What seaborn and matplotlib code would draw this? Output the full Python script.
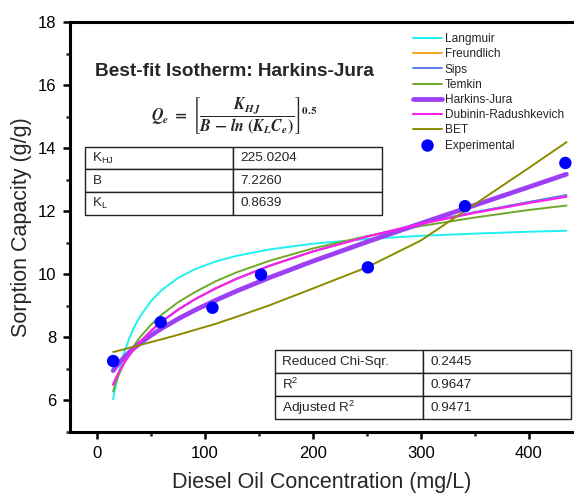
import matplotlib
matplotlib.use('Agg')
import matplotlib.pyplot as plt
import seaborn as sns
import pandas as pd
from matplotlib.ticker import MultipleLocator

# ---------------- data ----------------
conc_grid = [15, 17, 20, 25, 30, 35, 40, 50, 60, 75, 90, 110, 130, 160, 200, 250, 300, 350, 400, 435]

langmuir = [6.04, 6.41, 6.87, 7.50, 7.98, 8.36, 8.67, 9.15, 9.50, 9.88, 10.15, 10.41,
            10.59, 10.79, 10.97, 11.12, 11.22, 11.29, 11.35, 11.38]
freundlich = [6.505, 6.664, 6.877, 7.179, 7.436, 7.661, 7.861, 8.207, 8.500, 8.875, 9.193, 9.555,
              9.868, 10.272, 10.724, 11.195, 11.61, 11.97, 12.29, 12.51]
sips = [6.505, 6.664, 6.877, 7.179, 7.436, 7.661, 7.861, 8.207, 8.500, 8.875, 9.193, 9.555,
        9.868, 10.272, 10.724, 11.195, 11.61, 11.97, 12.29, 12.51]
temkin = [6.29, 6.51, 6.79, 7.18, 7.50, 7.77, 8.01, 8.40, 8.72, 9.11, 9.42, 9.78,
          10.07, 10.43, 10.82, 11.21, 11.53, 11.80, 12.04, 12.18]
harkins_jura = [6.946, 7.041, 7.170, 7.361, 7.528, 7.678, 7.816, 8.064, 8.285, 8.583, 8.851, 9.177,
                9.478, 9.897, 10.416, 11.026, 11.613, 12.190, 12.766, 13.172]
dubinin = [6.505, 6.664, 6.877, 7.179, 7.436, 7.661, 7.861, 8.207, 8.500, 8.875, 9.193, 9.555,
           9.868, 10.272, 10.724, 11.195, 11.597, 11.947, 12.259, 12.459]
bet = [7.54, 7.55, 7.58, 7.62, 7.67, 7.71, 7.76, 7.85, 7.94, 8.08, 8.23, 8.43,
       8.66, 9.02, 9.55, 10.22, 11.07, 12.22, 13.37, 14.19]

exp_conc = [15, 59, 107, 152, 251, 341, 434]
exp_q = [7.25, 8.48, 8.94, 9.99, 10.22, 12.16, 13.53]

model_names = ['Langmuir', 'Freundlich', 'Sips', 'Temkin', 'Harkins-Jura',
               'Dubinin-Radushkevich', 'BET']
model_values = [langmuir, freundlich, sips, temkin, harkins_jura, dubinin, bet]

params_names = ['K$_{\\mathregular{HJ}}$', 'B', 'K$_{\\mathregular{L}}$']
params_values = ['225.0204', '7.2260', '0.8639']
stats_names = ['Reduced Chi-Sqr.', 'R$^2$', 'Adjusted R$^2$']
stats_values = ['0.2445', '0.9647', '0.9471']

title_text = 'Best-fit Isotherm: Harkins-Jura'
xlabel_text = 'Diesel Oil Concentration (mg/L)'
ylabel_text = 'Sorption Capacity (g/g)'

# ---------------- style ----------------
colors = {'Langmuir': '#1ff0f0', 'Freundlich': '#f5a623', 'Sips': '#5b7bf0',
          'Temkin': '#6fa82a', 'Harkins-Jura': '#9d3ff5',
          'Dubinin-Radushkevich': '#ff1ef0', 'BET': '#8c8a00'}
widths = {'Langmuir': 1.4, 'Freundlich': 1.4, 'Sips': 1.4, 'Temkin': 1.4,
          'Harkins-Jura': 3.4, 'Dubinin-Radushkevich': 1.5, 'BET': 1.4}

sns.set_style('ticks')
plt.rcParams['font.family'] = ['Liberation Sans', 'DejaVu Sans']
plt.rcParams['mathtext.fontset'] = 'custom'
plt.rcParams['mathtext.rm'] = 'Liberation Sans'
plt.rcParams['mathtext.it'] = 'Liberation Sans:italic'
plt.rcParams['mathtext.bf'] = 'Liberation Sans:bold'
plt.rcParams['mathtext.default'] = 'regular'

fig = plt.figure(figsize=(5.74, 4.96), dpi=100)
ax = fig.add_axes([70 / 574, 64 / 496, 504 / 574, 410 / 496])

rows = []
for name, vals in zip(model_names, model_values):
    for c, q in zip(conc_grid, vals):
        rows.append({'conc': c, 'q': q, 'model': name})
df = pd.DataFrame(rows)

for name in model_names:
    sub = df[df['model'] == name]
    sns.lineplot(data=sub, x='conc', y='q', color=colors[name], linewidth=widths[name],
                 label=name, ax=ax, sort=False, estimator=None)

sns.scatterplot(x=exp_conc, y=exp_q, color='#0000ff', s=80, edgecolor='none',
                label='Experimental', ax=ax, zorder=5)

ax.set_xlim(-25, 442)
ax.set_ylim(5, 18)
ax.xaxis.set_major_locator(MultipleLocator(100))
ax.xaxis.set_minor_locator(MultipleLocator(50))
ax.yaxis.set_major_locator(MultipleLocator(2))
ax.yaxis.set_minor_locator(MultipleLocator(1))
ax.set_yticks([6, 8, 10, 12, 14, 16, 18])

for side in ['left', 'bottom', 'top']:
    ax.spines[side].set_linewidth(2.2)
    ax.spines[side].set_color('black')
ax.spines['right'].set_visible(False)
ax.tick_params(which='major', direction='out', length=5, width=1.8, labelsize=12,
               pad=5, colors='black', top=False, right=False)
ax.tick_params(which='minor', direction='out', length=3, width=1.8, top=False, right=False)

ax.set_xlabel(xlabel_text, fontsize=15.5, labelpad=8)
ax.set_ylabel(ylabel_text, fontsize=15.5, labelpad=4)

leg = ax.legend(loc='upper left', bbox_to_anchor=(0.681, 0.973), frameon=False,
                fontsize=8.6, handlelength=2.4, handletextpad=0.25, labelspacing=0.27,
                borderpad=0, borderaxespad=0)

ax.text(0.327, 0.879, title_text, transform=ax.transAxes, ha='center', va='center',
        fontsize=13.7, fontweight='bold')

eq = (r'$\mathbfit{Q}_{\mathbfit{e}}\ \mathbf{=}\ \left[\dfrac{\mathbfit{K}_{\mathbfit{HJ}}}'
      r'{\mathbfit{B}\ \mathbf{-}\ \mathbfit{ln}\ \mathbf{(}\mathbfit{K}_{\mathbfit{L}}'
      r'\mathbfit{C}_{\mathbfit{e}}\mathbf{)}}\right]^{\mathbf{0.5}}$')
ax.text(0.325, 0.771, eq, transform=ax.transAxes, ha='center', va='center',
        fontsize=11.5, math_fontfamily='stix')


def draw_table(names, values, bbox):
    tbl = ax.table(cellText=[[n, v] for n, v in zip(names, values)], cellLoc='left',
                   colWidths=[0.5, 0.5], bbox=bbox)
    tbl.auto_set_font_size(False)
    tbl.set_fontsize(9.7)
    for cell in tbl.get_celld().values():
        cell.set_linewidth(1.0)
        cell.set_edgecolor('#222222')
        cell.PAD = 0.05
    return tbl


draw_table(params_names, params_values, [0.0298, 0.530, 0.5887, 0.1659])
draw_table(stats_names, stats_values, [0.4067, 0.0317, 0.587, 0.168])

fig.savefig('out.png', dpi=100)
